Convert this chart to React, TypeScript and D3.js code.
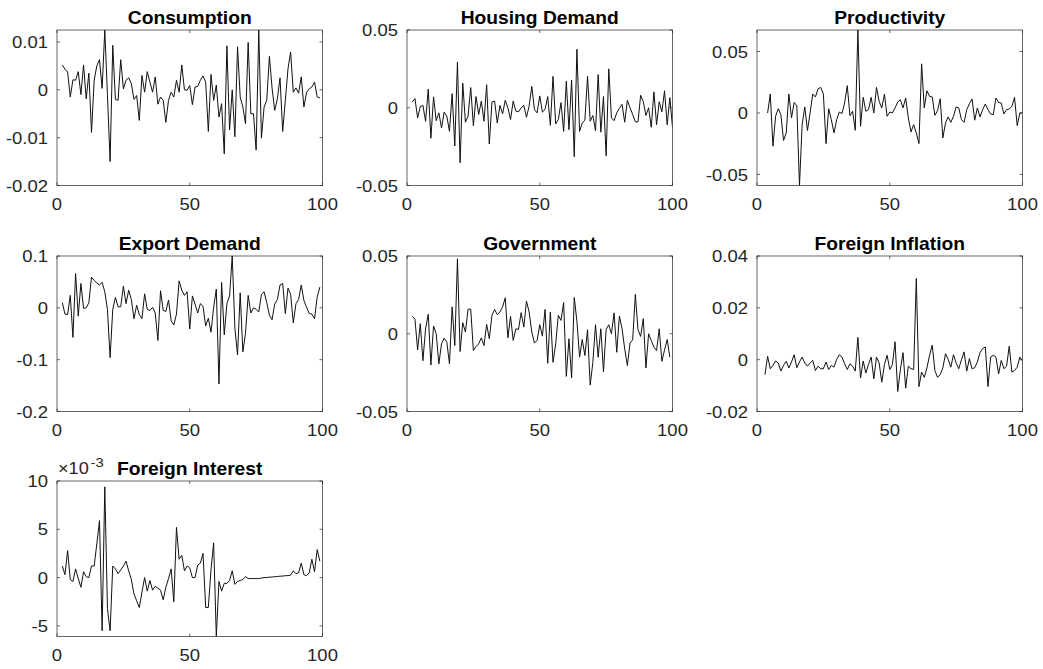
import React from 'react';
import * as d3 from 'd3';

// ---------- data ----------
const xDomain = [0, 100];
const xTicks = [0, 50, 100];
const xTickLabels = ['0', '50', '100'];

const titles = ['Consumption', 'Housing Demand', 'Productivity', 'Export Demand', 'Government', 'Foreign Inflation', 'Foreign Interest'];
const firstPeriod = [2, 2, 4, 2, 2, 3, 2];

const consumption = [
  0.0052, 0.0043, 0.0037, -0.0015, 0.0021, 0.002, 0.0038, -0.001, 0.0052, -0.0019,
  0.0035, -0.0089, 0.002, 0.005, 0.0063, 0.0003, 0.0125, -0.001, -0.015, 0.0093,
  -0.002, -0.0022, 0.0063, 0.0002, 0.002, 0.0025, 0.0013, -0.002, -0.0012, -0.0064,
  0.003, -0.0005, 0.0038, 0.0016, -0.0005, 0.0027, -0.003, -0.0015, -0.0022, -0.0068,
  -0.0022, -0.0005, -0.0015, 0.002, -0.0005, 0.0052, 0, -0.0001, 0.0009, -0.0031,
  0.0006, 0.0007, 0.002, 0.0029, 0.0016, -0.0087, 0.0032, -0.0022, 0.001, -0.0057,
  -0.0029, -0.0134, 0.0092, -0.0084, 0, -0.0098, 0.009, -0.0015, -0.0036, -0.0071,
  0.0099, -0.005, -0.005, -0.0126, 0.0125, -0.0101, -0.0036, -0.0022, 0.007, 0.0004,
  -0.0043, -0.0019, 0.0025, -0.0087, -0.0022, 0.0044, 0.0079, -0.0005, 0.0004, -0.0007,
  0.0027, -0.0036, -0.0005, 0.0002, 0.0006, 0.0016, -0.0015, -0.0017,
];

const housingDemand = [
  0.0037, 0.0059, -0.0065, 0.0007, 0.0015, -0.0087, 0.012, -0.0196, 0.007, -0.0083,
  -0.0033, -0.013, -0.0028, -0.0054, -0.0152, 0.0091, -0.0246, 0.0293, -0.0354, 0.0159,
  -0.0093, -0.0054, 0.013, -0.0115, 0.0072, -0.0043, 0.0043, -0.0087, 0.0148, -0.0233,
  0.0037, 0.0043, -0.0098, 0.0015, -0.0039, 0.0048, 0, -0.0076, 0.0043, -0.0022,
  -0.0026, 0, 0.0015, -0.0061, 0.0011, 0.0137, -0.0011, -0.0033, 0.0076, -0.0028,
  -0.0011, 0.0072, -0.0113, 0.0202, -0.0104, -0.0076, 0.0033, -0.0152, 0.017, -0.0141,
  0.0178, -0.0315, 0.0376, -0.0152, -0.0098, -0.008, 0.0202, -0.0087, -0.005, -0.0148,
  0.0213, -0.0157, 0.0072, -0.0309, 0.025, -0.0065, -0.0083, -0.0033, -0.0004, 0.0022,
  -0.0093, 0.0048, 0, -0.0043, -0.0091, -0.0091, 0.008, 0.0039, -0.005, 0,
  -0.0126, 0.0102, -0.0109, 0.0039, -0.0026, 0.0109, -0.0109, 0.0065, -0.0126,
];

const productivity = [
  0, 0.0154, -0.027, -0.0027, 0.0035, -0.0014, -0.0224, -0.0162, 0.0154, -0.004,
  0.0086, 0.0059, -0.059, -0.0095, 0.0049, -0.0143, 0, 0.0154, 0.013, 0.0197,
  0.0208, 0.0154, -0.0249, 0.0035, -0.0054, -0.0162, -0.0054, 0.0008, -0.0005, 0.0081,
  0.0222, -0.0022, 0.0014, -0.0141, 0.0675, -0.0108, 0.0127, 0.0014, 0.0027, 0.0127,
  0, 0.0208, 0.0095, 0.0041, 0.0154, -0.0027, 0.0008, 0, 0.0041, 0.0089,
  0.0108, 0.0041, 0.0122, -0.004, -0.0154, -0.0095, -0.0162, -0.0249, 0.04, 0.0041,
  0.0181, 0.0135, 0.013, -0.0019, 0.0019, 0.0116, -0.0203, -0.0081, -0.0032, -0.0076,
  -0.0027, 0.0049, 0.0041, -0.0054, -0.0076, 0.0027, 0.0076, 0.0114, -0.0059, 0.0041,
  -0.0032, 0.0027, 0.0073, 0.0027, -0.0008, -0.0014, 0.0122, 0.0086, 0.0081, -0.0008,
  0.0027, 0.0032, 0.0054, 0.0127, -0.0103, 0, 0,
];

const exportDemand = [
  0.01, -0.012, -0.013, 0.024, -0.057, 0.066, -0.016, 0.047, -0.001, 0,
  0.01, 0.059, 0.053, 0.048, 0.044, 0.049, 0.031, -0.003, -0.096, -0.003,
  0.02, 0.002, 0.002, 0.042, 0.008, 0.034, 0.016, -0.021, 0.005, -0.013,
  -0.021, 0.027, -0.003, -0.005, 0.001, -0.01, -0.063, 0.033, -0.005, -0.007,
  0.015, -0.025, -0.033, -0.012, 0.052, 0.034, 0.024, 0.031, -0.041, 0.023,
  0.007, -0.01, 0.008, 0.003, -0.035, -0.02, -0.047, 0.001, 0.036, -0.147,
  0.049, -0.052, 0.008, 0.023, 0.1, -0.039, -0.091, 0.029, -0.085, -0.049,
  0.024, -0.01, 0, -0.003, -0.008, 0.026, 0.031, 0.01, -0.014, -0.023,
  0.007, 0.016, 0.044, 0.047, -0.011, 0.038, 0.026, -0.029, 0.008, 0.016,
  0.044, 0.014, 0.001, -0.011, -0.012, -0.021, 0.021, 0.04,
];

const government = [
  0.0112, 0.0093, -0.0104, 0.0065, -0.0173, 0.0032, 0.0125, -0.0201, 0.005, 0,
  -0.0194, -0.0065, -0.0028, -0.0054, -0.0194, 0.0173, -0.0076, 0.0482, -0.0114, 0.0071,
  0.0011, 0.0158, 0.0158, -0.0108, -0.0082, -0.0065, -0.0026, -0.0076, 0.006, -0.0032,
  0.0119, 0.0156, 0.0123, 0.014, 0.0173, 0.0231, -0.0026, 0.0112, -0.0043, 0.0032,
  0.0028, 0.0136, 0.0043, 0.021, 0.014, 0.0011, -0.006, -0.0043, 0.0058, -0.0015,
  0.0156, -0.019, 0.014, -0.0184, -0.0065, 0.0119, 0.0086, 0.0201, -0.0274, -0.0032,
  -0.0285, 0.0233, 0.008, -0.0151, -0.0037, -0.014, 0.0026, -0.033, -0.0184, 0.0058,
  -0.0151, 0.0032, -0.0244, 0.0028, 0.0058, 0, 0.0134, -0.0119, 0.0114, 0.0032,
  -0.0097, -0.0205, -0.006, -0.0039, 0.0253, 0.0026, -0.0017, 0.0097, -0.022, 0,
  -0.0043, -0.0086, -0.0108, 0.0032, -0.0177, -0.0104, -0.0037, -0.0151,
];

const foreignInflation = [
  -0.0058, 0.0013, -0.0035, -0.0022, -0.0005, -0.0013, -0.0044, -0.0022, -0.0006, -0.0032,
  -0.0009, 0.0019, -0.0031, -0.0009, 0.001, -0.0013, -0.0025, -0.0013, -0.0003, -0.0042,
  -0.0025, -0.0035, -0.0035, -0.0009, -0.0038, -0.0022, -0.0029, 0.0001, 0.0019, 0.001,
  -0.0016, -0.0038, -0.0016, -0.0025, -0.0044, 0.0086, -0.0071, -0.0005, -0.0052, -0.0018,
  0.001, -0.0074, 0.001, -0.0013, -0.0087, -0.0019, 0.0017, -0.0038, -0.0019, 0.0069,
  -0.0123, -0.0038, 0.0027, -0.011, -0.0025, -0.0035, -0.0038, 0.0313, -0.0104, -0.0048,
  -0.0068, -0.0032, 0.0017, 0.0056, -0.0042, -0.0068, -0.0058, -0.0032, 0.0023, 0.0001,
  -0.0029, 0.0019, -0.0013, -0.0035, 0, 0.003, -0.0044, 0.0004, -0.0035, -0.0031,
  -0.0009, 0.0027, 0.0043, 0.0049, -0.0104, 0.001, 0.0017, 0.001, -0.0055, -0.0003,
  -0.0035, -0.0025, 0.0052, -0.0048, -0.0042, -0.0029, 0.001, -0.0005,
];

const foreignInterest = [
  0.0012, 0.0003, 0.0028, -0.0002, -0.0004, 0.0009, -0.0001, -0.001, 0.0006, 0.0001,
  0, 0.0012, 0.0012, 0.0035, 0.0059, -0.0055, 0.0094, -0.0032, -0.0055, 0.0012,
  0.0009, 0.0004, 0.0008, 0.0012, 0.0017, 0.0007, -0.0002, -0.0017, -0.0024, -0.0031,
  -0.0015, 0, -0.0014, -0.0003, -0.0013, -0.0009, -0.0011, -0.0013, -0.0023, -0.001,
  -0.0001, 0.0009, -0.0025, 0.0052, 0.0019, 0.0023, 0.0007, 0.0012, 0.001, 0,
  0, 0.0013, 0.0015, 0.0025, -0.0031, -0.0031, 0.0008, 0.0036, -0.0061, -0.0004,
  -0.0014, -0.0006, -0.0006, -0.0003, 0.0007, -0.0007, -0.0004, -0.0003, -0.0002, 0.0001,
  -0.0001, -0.0001, -0.0001, -0.0001, -0.0001, -0.00005, 0, 0, 0.00005, 0.00005,
  0.0001, 0.0001, 0.00015, 0.00015, 0.0002, 0.0002, 0.00025, 0.0007, 0.0004, 0.0005,
  0.0015, 0.0003, 0.0002, 0.0005, 0.0019, 0.0006, 0.0029, 0.0017,
];

const yDomains = [
  [-0.02, 0.0125],
  [-0.05, 0.05],
  [-0.059, 0.0675],
  [-0.2, 0.1],
  [-0.05, 0.05],
  [-0.02, 0.04],
  [-0.0061, 0.01],
];
const yTicks = [
  [-0.02, -0.01, 0, 0.01],
  [-0.05, 0, 0.05],
  [-0.05, 0, 0.05],
  [-0.2, -0.1, 0, 0.1],
  [-0.05, 0, 0.05],
  [-0.02, 0, 0.02, 0.04],
  [-0.005, 0, 0.005, 0.01],
];
const yTickLabels = [
  ['-0.02', '-0.01', '0', '0.01'],
  ['-0.05', '0', '0.05'],
  ['-0.05', '0', '0.05'],
  ['-0.2', '-0.1', '0', '0.1'],
  ['-0.05', '0', '0.05'],
  ['-0.02', '0', '0.02', '0.04'],
  ['-5', '0', '5', '10'],
];
const exponents = [null, null, null, null, null, null, '-3'];

const series = [consumption, housingDemand, productivity, exportDemand, government, foreignInflation, foreignInterest];

// ---------- layout ----------
const W = 1043;
const H = 669;
const colLeft = [57, 407, 757];
const rowTop = [30, 256, 481];
const PW = 265.5;
const PH = 155.5;
const TICK = 3;
const AX = '#262626';
const FONT = "'Liberation Sans', Arial, Helvetica, sans-serif";
const SX = 1.12;
const TFS = 16.5;

function Panel({ i }: { i: number }) {
  const left = colLeft[i % 3];
  const top = rowTop[Math.floor(i / 3)];
  const x = d3.scaleLinear().domain(xDomain).range([left, left + PW]);
  const y = d3.scaleLinear().domain(yDomains[i]).range([top + PH, top]);
  const vals = series[i];
  const x0 = firstPeriod[i];
  const line = d3
    .line<number>()
    .x((_, j) => x(x0 + j))
    .y((v) => y(v));
  const clipId = `clip-${i}`;
  const bottom = top + PH;
  const right = left + PW;
  return (
    <g>
      <defs>
        <clipPath id={clipId}>
          <rect x={left} y={top} width={PW} height={PH} />
        </clipPath>
      </defs>
      <path d={line(vals) || ''} fill="none" stroke="#111" strokeWidth={1} clipPath={`url(#${clipId})`} strokeLinejoin="miter" />
      <rect x={left} y={top} width={PW} height={PH} fill="none" stroke={AX} strokeWidth={0.7} />
      {xTicks.map((t, k) => (
        <g key={'xt' + k}>
          <line x1={x(t)} x2={x(t)} y1={bottom} y2={bottom - TICK} stroke={AX} strokeWidth={0.7} />
          <line x1={x(t)} x2={x(t)} y1={top} y2={top + TICK} stroke={AX} strokeWidth={0.7} />
          <text
            transform={`translate(${x(t)},${bottom + 24.5}) scale(${SX},1)`}
            textAnchor="middle"
            fontSize={TFS}
            fill={AX}
          >
            {xTickLabels[k]}
          </text>
        </g>
      ))}
      {yTicks[i].map((t, k) => (
        <g key={'yt' + k}>
          <line x1={left} x2={left + TICK} y1={y(t)} y2={y(t)} stroke={AX} strokeWidth={0.7} />
          <line x1={right} x2={right - TICK} y1={y(t)} y2={y(t)} stroke={AX} strokeWidth={0.7} />
          <text
            transform={`translate(${left - 9},${y(t) + 6.2}) scale(${SX},1)`}
            textAnchor="end"
            fontSize={TFS}
            fill={AX}
          >
            {yTickLabels[i][k]}
          </text>
        </g>
      ))}
      <text
        transform={`translate(${left + PW / 2},${top - 6.5}) scale(1.1,1)`}
        textAnchor="middle"
        fontSize={17.5}
        fontWeight="bold"
        fill="#000"
      >
        {titles[i]}
      </text>
      {exponents[i] && (
        <g>
          <text transform={`translate(${left + 1},${top - 7}) scale(1.1,1)`} fontSize={16.5} fill={AX}>
            ×10
          </text>
          <text transform={`translate(${left + 33.5},${top - 14}) scale(1.1,1)`} fontSize={13.5} fill={AX}>
            {exponents[i]}
          </text>
        </g>
      )}
    </g>
  );
}

export default function App() {
  return (
    <svg
      width={W}
      height={H}
      style={{ position: 'absolute', left: 0, top: 0, background: '#fff' }}
      fontFamily={FONT}
    >
      <rect width={W} height={H} fill="#fff" />
      {series.map((_, i) => (
        <Panel key={i} i={i} />
      ))}
    </svg>
  );
}
